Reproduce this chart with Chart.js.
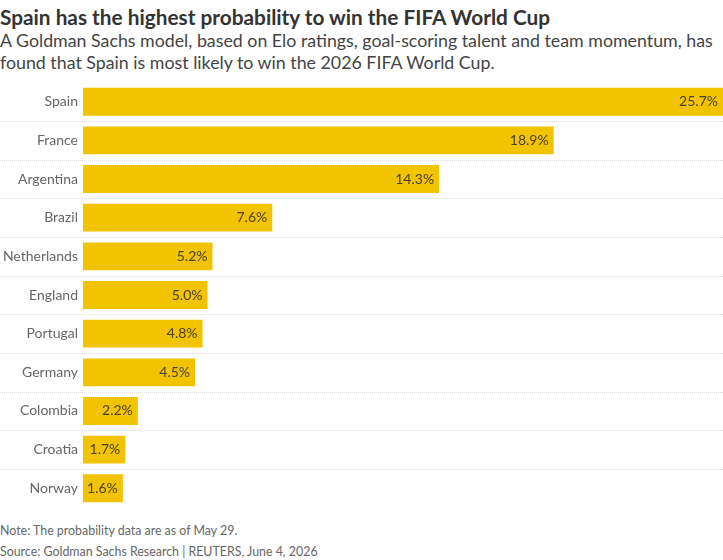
<!DOCTYPE html>
<html>
<head>
<meta charset="utf-8">
<script src="https://cdn.jsdelivr.net/npm/chart.js@4"></script>
<style>
  body { margin: 0; background: #fff; font-family: Lato, sans-serif; color: #333; }
  #wrap { position: relative; width: 723px; height: 560px; overflow: hidden; }
  #title { position: absolute; left: 0; top: 4px; font-size: 20.8px; font-weight: 700; color: #333; white-space: nowrap; }
  #subtitle { position: absolute; left: 0; top: 29px; font-size: 17.8px; line-height: 22px; color: #444; width: 723px; }
  #chartBox { position: absolute; left: 0; top: 69px; width: 723px; height: 452px; }
  .note { position: absolute; left: 0; font-size: 12.4px; color: #666; white-space: nowrap; }
</style>
</head>
<body>
<div id="wrap">
  <div id="title">Spain has the highest probability to win the FIFA World Cup</div>
  <div id="subtitle">A Goldman Sachs model, based on Elo ratings, goal-scoring talent and team momentum, has found that Spain is most likely to win the 2026 FIFA World Cup.</div>
  <div id="chartBox"><canvas id="chart"></canvas></div>
  <div class="note" style="top:523px">Note: The probability data are as of May 29.</div>
  <div class="note" style="top:544px">Source: Goldman Sachs Research | REUTERS, June 4, 2026</div>
</div>
<script>
const countries = ['Spain', 'France', 'Argentina', 'Brazil', 'Netherlands', 'England',
  'Portugal', 'Germany', 'Colombia', 'Croatia', 'Norway'];
const probability = [25.7, 18.9, 14.3, 7.6, 5.2, 5.0, 4.8, 4.5, 2.2, 1.7, 1.6];

// dotted separators between rows, across the full width
const rowLines = {
  id: 'rowLines',
  beforeDatasetsDraw(chart) {
    const y = chart.scales.y;
    const ctx = chart.ctx;
    ctx.save();
    ctx.strokeStyle = '#dcdcdc';
    ctx.lineWidth = 1;
    ctx.setLineDash([1, 1]);
    for (let i = 0; i < countries.length - 1; i++) {
      const py = Math.round((y.getPixelForTick(i) + y.getPixelForTick(i + 1)) / 2) + 0.5;
      ctx.beginPath();
      ctx.moveTo(0, py);
      ctx.lineTo(chart.width, py);
      ctx.stroke();
    }
    ctx.restore();
  }
};

// value labels inside the end of each bar
const valueLabels = {
  id: 'valueLabels',
  afterDatasetsDraw(chart) {
    const ctx = chart.ctx;
    const meta = chart.getDatasetMeta(0);
    ctx.save();
    ctx.font = '14px Lato, sans-serif';
    ctx.fillStyle = '#4a4030';
    ctx.textAlign = 'right';
    ctx.textBaseline = 'middle';
    meta.data.forEach((bar, i) => {
      ctx.fillText(probability[i].toFixed(1) + '%', bar.x - 5, bar.y);
    });
    ctx.restore();
  }
};

new Chart(document.getElementById('chart'), {
  type: 'bar',
  data: {
    labels: countries,
    datasets: [{
      data: probability,
      backgroundColor: '#f2c300',
      borderWidth: 0,
      barPercentage: 0.72,
      categoryPercentage: 1.0
    }]
  },
  options: {
    indexAxis: 'y',
    responsive: true,
    maintainAspectRatio: false,
    animation: false,
    layout: { padding: 0 },
    plugins: {
      legend: { display: false },
      tooltip: { enabled: false }
    },
    scales: {
      x: {
        display: false,
        min: 0,
        max: 25.7
      },
      y: {
        afterFit(scale) { scale.width = 83; },
        border: { display: false },
        grid: { display: false, drawTicks: false },
        ticks: {
          padding: 5,
          color: '#666',
          font: { family: 'Lato, sans-serif', size: 14 }
        }
      }
    }
  },
  plugins: [rowLines, valueLabels]
});
</script>
</body>
</html>
